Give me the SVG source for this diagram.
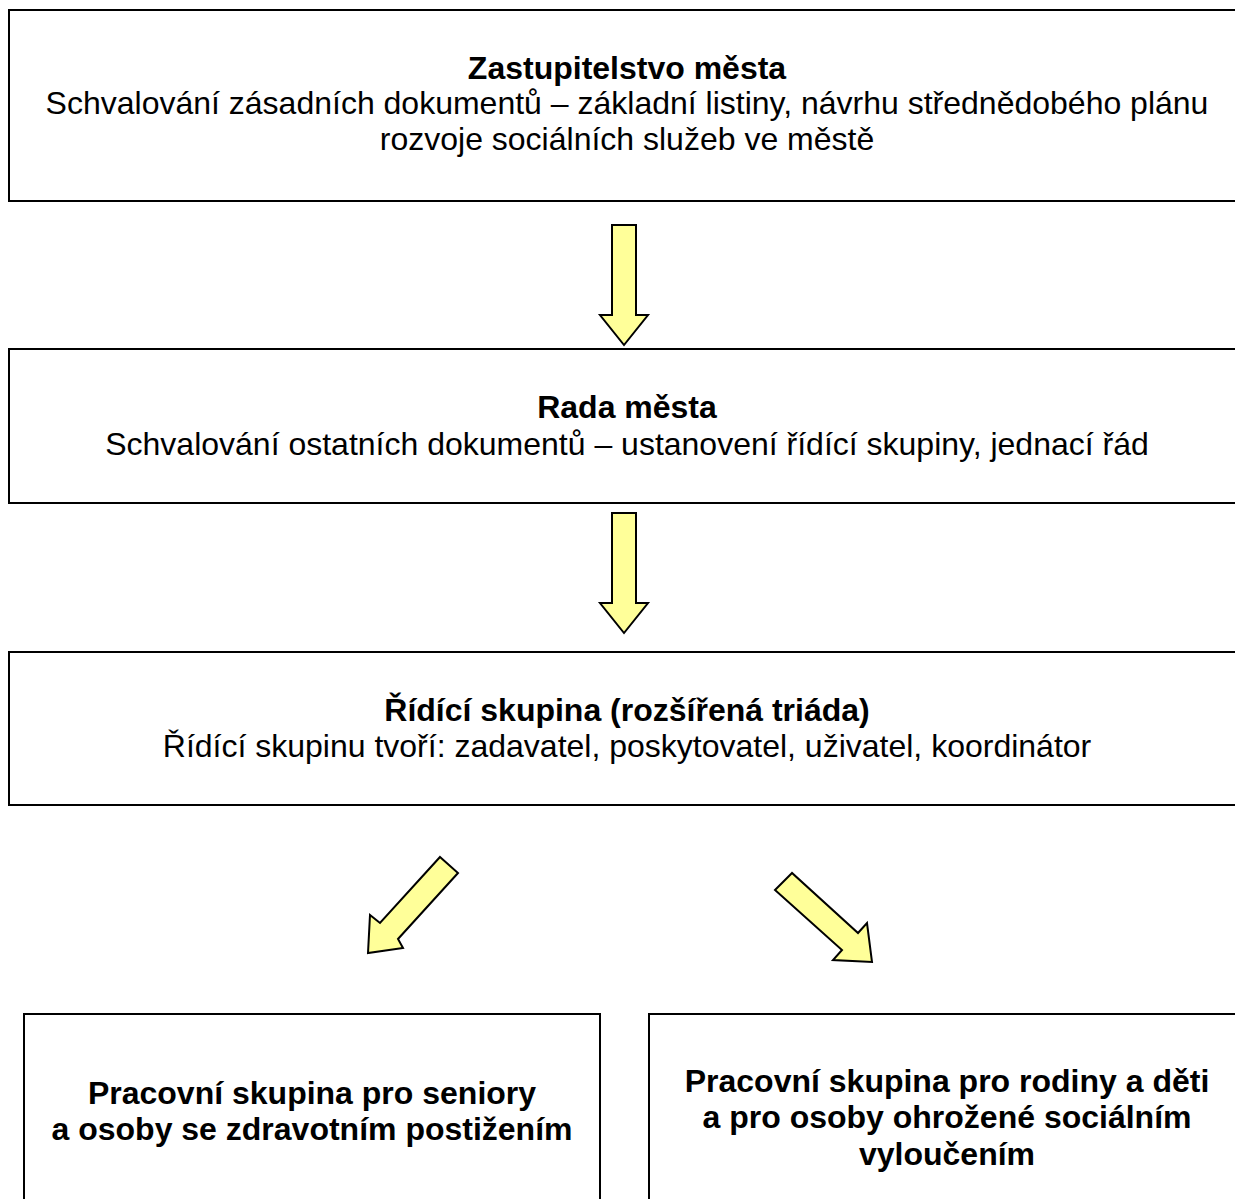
<svg xmlns="http://www.w3.org/2000/svg" width="1235" height="1199" viewBox="0 0 1235 1199">
<style>
.box{fill:#fff;stroke:#000;stroke-width:2}
.arr{fill:#ffff99;stroke:#000;stroke-width:2;stroke-linejoin:miter}
text{font-family:"Liberation Sans",Arial,sans-serif;font-size:32px;fill:#000;text-anchor:middle}
.b{font-weight:bold}
</style>
<rect width="1235" height="1199" fill="#fff"/>
<g id="n1"><rect class="box" x="9" y="10" width="1240" height="191"/>
<text class="b" x="627" y="79">Zastupitelstvo města</text>
<text x="627" y="114">Schvalování zásadních dokumentů – základní listiny, návrhu střednědobého plánu</text>
<text x="627" y="150">rozvoje sociálních služeb ve městě</text></g>
<g id="n2"><rect class="box" x="9" y="349" width="1240" height="154"/>
<text class="b" x="627" y="418">Rada města</text>
<text x="627" y="455">Schvalování ostatních dokumentů – ustanovení řídící skupiny, jednací řád</text></g>
<g id="n3"><rect class="box" x="9" y="652" width="1240" height="153"/>
<text class="b" x="627" y="721">Řídící skupina (rozšířená triáda)</text>
<text x="627" y="757">Řídící skupinu tvoří: zadavatel, poskytovatel, uživatel, koordinátor</text></g>
<g id="n4"><rect class="box" x="24" y="1014" width="576" height="200"/>
<text class="b" x="312" y="1104">Pracovní skupina pro seniory</text>
<text class="b" x="312" y="1140">a osoby se zdravotním postižením</text></g>
<g id="n5"><rect class="box" x="649" y="1014" width="600" height="200"/>
<text class="b" x="947" y="1092">Pracovní skupina pro rodiny a děti</text>
<text class="b" x="947" y="1128">a pro osoby ohrožené sociálním</text>
<text class="b" x="947" y="1165">vyloučením</text></g>
<g id="connectors">
<polygon class="arr" points="612,225 636,225 636,315 648,315 624,345 600,315 612,315"/>
<polygon class="arr" points="612,513 636,513 636,603 648,603 624,633 600,603 612,603"/>
<polygon class="arr" points="440,857 458,873 398,939 403,948 368,953 370,915 380,923"/>
<polygon class="arr" points="792,873 775,890 842,950 833,960 872,962 867,923 858,933"/>
</g>
</svg>
